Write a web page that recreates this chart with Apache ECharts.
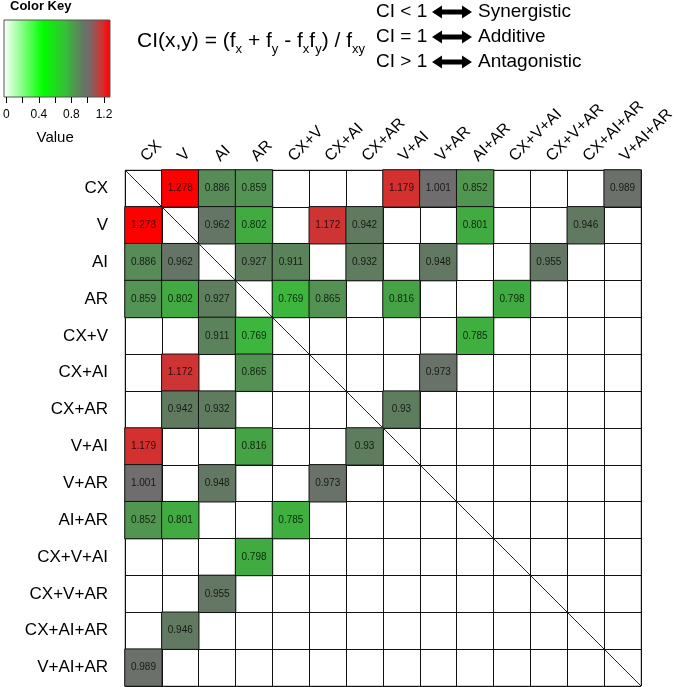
<!DOCTYPE html>
<html>
<head>
<meta charset="utf-8">
<script src="https://cdn.jsdelivr.net/npm/echarts@6/dist/echarts.min.js"></script>
<style>html,body{margin:0;padding:0;background:#fff}#c{width:685px;height:687px}</style>
</head>
<body>
<div id="c"></div>
<script>
// ---- data ----
const categories = ['CX','V','AI','AR','CX+V','CX+AI','CX+AR','V+AI','V+AR','AI+AR','CX+V+AI','CX+V+AR','CX+AI+AR','V+AI+AR'];
// upper-triangle pairs (matrix is symmetric)
const pairA = ['CX','CX','CX','CX','CX','CX','CX','V','V','V','V','V','V','AI','AI','AI','AI','AI','AR','AR','AR','AR','CX+V','CX+AI','CX+AR'];
const pairB = ['V','AI','AR','V+AI','V+AR','AI+AR','V+AI+AR','AI','AR','CX+AI','CX+AR','AI+AR','CX+AI+AR','AR','CX+V','CX+AR','V+AR','CX+V+AR','CX+V','CX+AI','V+AI','CX+V+AI','AI+AR','V+AR','V+AI'];
const pairValue = [1.278,0.886,0.859,1.179,1.001,0.852,0.989,0.962,0.802,1.172,0.942,0.801,0.946,0.927,0.911,0.932,0.948,0.955,0.769,0.865,0.816,0.798,0.785,0.973,0.93];
const keyTicks = [0,0.2,0.4,0.6,0.8,1.0,1.2];
const keyLabels = ['0','','0.4','','0.8','','1.2'];
const valueMax = 1.278;

// ---- colour scale (style) ----
const stopVals = [0, 0.47, 0.76, 0.80, 0.86, 0.89, 0.93, 0.97, 1.00, 1.06, 1.17, 1.20, 1.278];
const stopCols = ['#ffffff','#00ff00','#3cb93c','#40aa40','#539353','#598a59','#5e7d5e','#677267','#6e6e6e','#8a5c5c','#cc3535','#e52222','#ff0000'];
function hex(c){return [parseInt(c.slice(1,3),16),parseInt(c.slice(3,5),16),parseInt(c.slice(5,7),16)];}
function colAt(v){
  for(let i=0;i<stopVals.length-1;i++){
    if(v<=stopVals[i+1]){
      const t=(v-stopVals[i])/(stopVals[i+1]-stopVals[i]);
      const a=hex(stopCols[i]),b=hex(stopCols[i+1]);
      return 'rgb('+a.map((x,k)=>Math.round(x+(b[k]-x)*t)).join(',')+')';
    }
  }
  return stopCols[stopCols.length-1];
}
const N=160, rampColors=[];
for(let i=0;i<N;i++) rampColors.push(colAt(valueMax*i/(N-1)));
const gradStops = stopVals.map((v,i)=>({offset:v/valueMax,color:stopCols[i]}));

const heatData=[];
for(let i=0;i<pairValue.length;i++){
  const a=categories.indexOf(pairA[i]), b=categories.indexOf(pairB[i]);
  heatData.push([b,a,pairValue[i]]);
  heatData.push([a,b,pairValue[i]]);
}

const G={left:125,top:170,width:516,height:516};
const font='"Liberation Sans", Arial, sans-serif';

function arrow(x0,x1,cy){
  const h=10, hh=6.5, sh=2.5;
  return {type:'polygon',shape:{points:[[x0,cy],[x0+h,cy-hh],[x0+h,cy-sh],[x1-h,cy-sh],[x1-h,cy-hh],[x1,cy],[x1-h,cy+hh],[x1-h,cy+sh],[x0+h,cy+sh],[x0+h,cy+hh]]},style:{fill:'#000'}};
}
const legendLines=[['CI < 1','Synergistic',12],['CI = 1','Additive',37],['CI > 1','Antagonistic',62]];
const graphics=[
  {type:'text',left:10,top:0,style:{text:'Color Key',font:'bold 13px '+font,fill:'#000'}},
  {type:'rect',shape:{x:4,y:20,width:106,height:77},style:{fill:new echarts.graphic.LinearGradient(0,0,1,0,gradStops),stroke:'#555',lineWidth:1}},
  {type:'text',x:137,y:26,style:{
    text:'CI(x,y) = (f{s|x} + f{s|y} - f{s|x}f{s|y}) / f{s|xy}',
    font:'21px '+font,fill:'#000',lineHeight:30,
    rich:{s:{fontSize:13,fontFamily:font,verticalAlign:'bottom',lineHeight:12}}
  }},
  {type:'line',shape:{x1:G.left,y1:G.top,x2:G.left+G.width,y2:G.top+G.height},style:{stroke:'#222',lineWidth:1},z:100}
];
legendLines.forEach(l=>{
  graphics.push({type:'text',x:376,y:l[2],style:{text:l[0],font:'19px '+font,fill:'#000',verticalAlign:'middle'}});
  graphics.push(arrow(432,472,l[2]));
  graphics.push({type:'text',x:478,y:l[2],style:{text:l[1],font:'19px '+font,fill:'#000',verticalAlign:'middle'}});
});

const chart=echarts.init(document.getElementById('c'),null,{renderer:'canvas'});
chart.setOption({
  animation:false,
  backgroundColor:'#fff',
  textStyle:{fontFamily:font},
  grid:[
    {left:G.left,top:G.top,width:G.width,height:G.height,show:true,borderColor:'#999',borderWidth:1},
    {left:4,top:20,width:100,height:77}
  ],
  xAxis:[
    {type:'category',data:categories,position:'top',gridIndex:0,
     axisLine:{show:false},axisTick:{show:false},
     axisLabel:{rotate:-45,fontSize:16,color:'#000',margin:11,interval:0,fontFamily:font},
     splitLine:{show:true,interval:0,lineStyle:{color:'#111',width:1}}},
    {type:'value',gridIndex:1,min:0,max:1.2,interval:0.2,position:'bottom',
     axisLine:{show:false},axisTick:{show:true,length:6,lineStyle:{color:'#000'}},
     splitLine:{show:false},
     axisLabel:{fontSize:12,color:'#000',margin:12,formatter:function(v){const i=keyTicks.findIndex(t=>Math.abs(t-v)<1e-6);return i>=0?keyLabels[i]:'';}},
     name:'Value',nameLocation:'middle',nameGap:33,nameTextStyle:{fontSize:15,color:'#000'}}
  ],
  yAxis:[
    {type:'category',data:categories,inverse:true,gridIndex:0,
     axisLine:{show:false},axisTick:{show:false},
     axisLabel:{fontSize:17,color:'#000',margin:17,interval:0,fontFamily:font},
     splitLine:{show:true,interval:0,lineStyle:{color:'#111',width:1}}},
    {type:'value',gridIndex:1,show:false,min:0,max:1}
  ],
  visualMap:{type:'continuous',show:false,min:0,max:valueMax,seriesIndex:0,inRange:{color:rampColors}},
  series:[{
    type:'heatmap',xAxisIndex:0,yAxisIndex:0,data:heatData,
    itemStyle:{borderColor:'#111',borderWidth:1},
    label:{show:true,fontSize:10,color:'rgba(0,0,0,0.78)',fontFamily:font,formatter:p=>String(p.value[2])}
  }],
  graphic:graphics
});
</script>
</body>
</html>
